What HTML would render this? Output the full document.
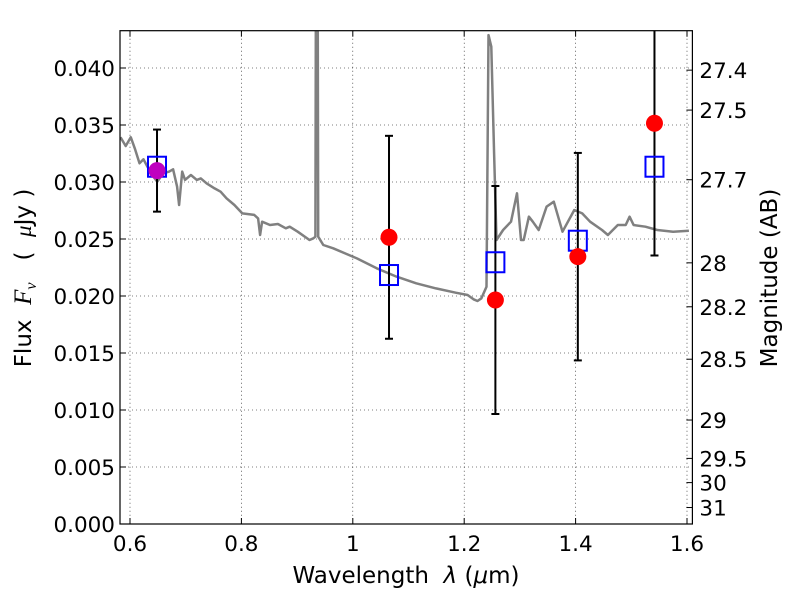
<!DOCTYPE html>
<html><head><meta charset="utf-8"><style>
body{margin:0;background:#fff}
svg text{font-family:"DejaVu Sans","Liberation Sans",sans-serif;fill:#000}
</style></head><body>
<svg id="c" width="800" height="600" xmlns="http://www.w3.org/2000/svg">
<defs><clipPath id="pc"><rect x="120" y="30.7" width="572.4" height="493.3"/></clipPath></defs>
<rect x="0" y="0" width="800" height="600" fill="#fff"/>
<g id="grid"></g>
<g id="plot" clip-path="url(#pc)"></g>
<g id="axes"></g>
<text x="406" y="583" text-anchor="middle" font-size="23" style="white-space:pre">Wavelength  <tspan font-style="italic">λ</tspan> (<tspan font-style="italic">μ</tspan>m)</text>
<text transform="translate(31,278) rotate(-90)" text-anchor="middle" font-size="23" style="white-space:pre">Flux  <tspan font-family="Liberation Serif" font-style="italic" font-size="25">F</tspan><tspan font-family="Liberation Serif" font-style="italic" font-size="16" dy="5">ν</tspan><tspan dy="-5">   (  </tspan><tspan font-family="Liberation Serif" font-style="italic">μ</tspan>Jy )</text>
<text transform="translate(777,278) rotate(-90)" text-anchor="middle" font-size="23">Magnitude (AB)</text>
</svg>
<script>
const specX=[0.5830,0.5923,0.6015,0.6086,0.6171,0.6242,0.6313,0.6419,0.6490,0.6597,0.6703,0.6774,0.6845,0.6881,0.6937,0.6987,0.7094,0.7200,0.7271,0.7377,0.7519,0.7626,0.7732,0.7874,0.8016,0.8229,0.8300,0.8335,0.8371,0.8513,0.8655,0.8797,0.8868,0.9010,0.9222,0.9293,0.9329,0.9343,0.9364,0.9378,0.9471,0.9648,0.9861,1.0074,1.0429,1.0783,1.1138,1.1493,1.1848,1.2061,1.2167,1.2238,1.2309,1.2401,1.2437,1.2486,1.2536,1.2579,1.2699,1.2841,1.2948,1.3019,1.3068,1.3161,1.3232,1.3338,1.3480,1.3608,1.3764,1.3977,1.4119,1.4261,1.4474,1.4580,1.4758,1.4900,1.4970,1.5041,1.5254,1.5467,1.5751,1.6035];
const specY=[0.03392,0.03316,0.03392,0.03295,0.03164,0.03199,0.03135,0.03047,0.03003,0.03076,0.03091,0.03111,0.02959,0.02798,0.03091,0.03018,0.03061,0.03018,0.03032,0.02988,0.02944,0.02915,0.02857,0.02798,0.02725,0.02711,0.02681,0.02535,0.02652,0.02623,0.02632,0.02594,0.02608,0.02564,0.02491,0.02506,0.02520,0.06,0.06,0.02520,0.02447,0.02418,0.02374,0.02330,0.02243,0.02170,0.02111,0.02067,0.02029,0.02009,0.01971,0.01956,0.01980,0.02082,0.04289,0.04187,0.03251,0.02491,0.02579,0.02652,0.02901,0.02491,0.02491,0.02696,0.02652,0.02579,0.02784,0.02827,0.02564,0.02754,0.02725,0.02652,0.02579,0.02535,0.02623,0.02623,0.02696,0.02623,0.02608,0.02579,0.02564,0.02573];
const bandX=[0.6485,1.065,1.256,1.404,1.5416];
const obsFlux=[0.0310,0.02515,0.01965,0.02345,0.03515];
const obsErr=[0.0036,0.0089,0.0100,0.0091,0.0116];
const modelFlux=[0.03134,0.02184,0.02296,0.02485,0.03134];
const xTicks=[0.6,0.8,1.0,1.2,1.4,1.6];
const xTickLabels=["0.6","0.8","1","1.2","1.4","1.6"];
const yTicks=[0,0.005,0.01,0.015,0.02,0.025,0.03,0.035,0.04];
const yTickLabels=["0.000","0.005","0.010","0.015","0.020","0.025","0.030","0.035","0.040"];
const magTicks=[27.4,27.5,27.7,28,28.2,28.5,29,29.5,30,31];
const magTickLabels=["27.4","27.5","27.7","28","28.2","28.5","29","29.5","30","31"];

const L=120,R=692.4,T=30.7,B=524;
function sx(v){return 130+(v-0.6)*557;}
function sy(v){return 524-v*11400;}
function magToFlux(m){return Math.pow(10,(23.9-m)/2.5);}
const NS="http://www.w3.org/2000/svg";
function mk(tag,attrs,parent){const e=document.createElementNS(NS,tag);for(const k in attrs)e.setAttribute(k,attrs[k]);parent.appendChild(e);return e;}
const grid=document.getElementById('grid'),plot=document.getElementById('plot'),axes=document.getElementById('axes');

xTicks.forEach((t,i)=>{const x=sx(t);
 const g=mk('line',{x1:x,x2:x,y1:T,y2:B,stroke:'#000','stroke-width':0.6,'stroke-dasharray':'1,3'},grid);
 
 
 mk('line',{x1:x,x2:x,y1:B,y2:B-6,stroke:'#000','stroke-width':1},axes);
 mk('line',{x1:x,x2:x,y1:T,y2:T+6,stroke:'#000','stroke-width':1},axes);
 const tx=mk('text',{x:x,y:B+27,'text-anchor':'middle','font-size':21.5},axes);tx.textContent=xTickLabels[i];
 
 
});
yTicks.forEach((t,i)=>{const y=sy(t);
 const g=mk('line',{x1:L,x2:R,y1:y,y2:y,stroke:'#000','stroke-width':0.6,'stroke-dasharray':'1,3'},grid);
 
 
 mk('line',{x1:L,x2:L+6,y1:y,y2:y,stroke:'#000','stroke-width':1},axes);
 const tx=mk('text',{x:L-5,y:y+8,'text-anchor':'end','font-size':21.5},axes);tx.textContent=yTickLabels[i];
 
 
});
magTicks.forEach((m,i)=>{const y=sy(magToFlux(m));
 mk('line',{x1:R,x2:R-6,y1:y,y2:y,stroke:'#000','stroke-width':1},axes);
 const tx=mk('text',{x:R+7,y:y+8,'font-size':21.5},axes);tx.textContent=magTickLabels[i];
 
 
});
const fr=mk('rect',{x:L,y:T,width:R-L,height:B-T,fill:'none',stroke:'#000','stroke-width':1.2},axes);



let d='';specX.forEach((x,i)=>{d+=(i?'L':'M')+sx(x).toFixed(1)+','+sy(specY[i]).toFixed(1);});
const sp=mk('path',{d:d,fill:'none',stroke:'#808080','stroke-width':2.5,'stroke-linejoin':'round'},plot);



bandX.forEach((bx,i)=>{const x=sx(bx);
 const y1=sy(obsFlux[i]+obsErr[i]),y2=sy(obsFlux[i]-obsErr[i]);
 const eb=mk('g',{},plot);
 
 
 mk('line',{x1:x,x2:x,y1:y1,y2:y2,stroke:'#000','stroke-width':2},eb);
 mk('line',{x1:x-4,x2:x+4,y1:y1,y2:y1,stroke:'#000','stroke-width':2},eb);
 mk('line',{x1:x-4,x2:x+4,y1:y2,y2:y2,stroke:'#000','stroke-width':2},eb);
});
bandX.forEach((bx,i)=>{
 const s=mk('rect',{x:sx(bx)-9,y:sy(modelFlux[i])-10,width:18,height:20,fill:'none',stroke:'#0000ff','stroke-width':2},plot);
 
 
});
bandX.forEach((bx,i)=>{
 const c=mk('ellipse',{cx:sx(bx),cy:sy(obsFlux[i]),rx:8.5,ry:8.5,fill:i===0?'#bf00bf':'#ff0000',stroke:'none'},plot);
 
 
});
</script>
</body></html>
